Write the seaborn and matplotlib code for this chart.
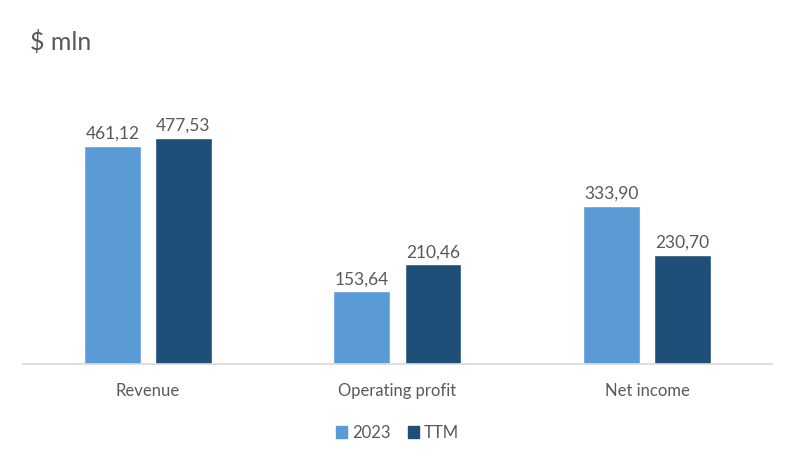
import seaborn as sns
import matplotlib.pyplot as plt
import pandas as pd
from matplotlib.patches import Patch

categories = ['Revenue', 'Operating profit', 'Net income']
series_names = ['2023', 'TTM']
values_2023 = [461.12, 153.64, 333.90]
values_ttm = [477.53, 210.46, 230.70]

colors = ['#5B9BD5', '#1F4E79']
text_color = '#595959'

df = pd.DataFrame({
    'category': categories * 2,
    'period': [series_names[0]] * 3 + [series_names[1]] * 3,
    'value': values_2023 + values_ttm,
})

sns.set_style("white")
plt.rcParams['font.family'] = ['Lato', 'DejaVu Sans']

fig = plt.figure(figsize=(7.95, 4.63), dpi=100)
ax = fig.add_axes([0.0292, 0.2138, 0.9415, 0.5702])

sns.barplot(data=df, x='category', y='value', hue='period', order=categories,
            hue_order=series_names, palette=colors, width=0.57, gap=0.2,
            saturation=1, legend=False, ax=ax)

for cont in ax.containers:
    ax.bar_label(cont, labels=[f'{v:.2f}'.replace('.', ',') for v in cont.datavalues],
                 padding=3, fontsize=12.5, color=text_color)

ax.set_xlim(-0.5, 2.5)
ax.set_ylim(0, 558)
ax.set_xlabel('')
ax.set_ylabel('')
ax.set_yticks([])
ax.tick_params(axis='x', length=0, labelsize=12, labelcolor=text_color, pad=14)
for side in ['top', 'left', 'right']:
    ax.spines[side].set_visible(False)
ax.spines['bottom'].set_color('#D9D9D9')
ax.spines['bottom'].set_linewidth(1.2)

fig.text(0.038, 0.91, '$ mln', fontsize=18, color=text_color, va='center')

handles = [Patch(color=c, label=n) for c, n in zip(colors, series_names)]
fig.legend(handles=handles, loc='center', bbox_to_anchor=(0.5, 0.065), ncol=2,
           frameon=False, fontsize=12, handlelength=0.7, handleheight=0.7,
           handletextpad=0.3, columnspacing=1.0, labelcolor=text_color)

fig.savefig('out.png', dpi=100)
